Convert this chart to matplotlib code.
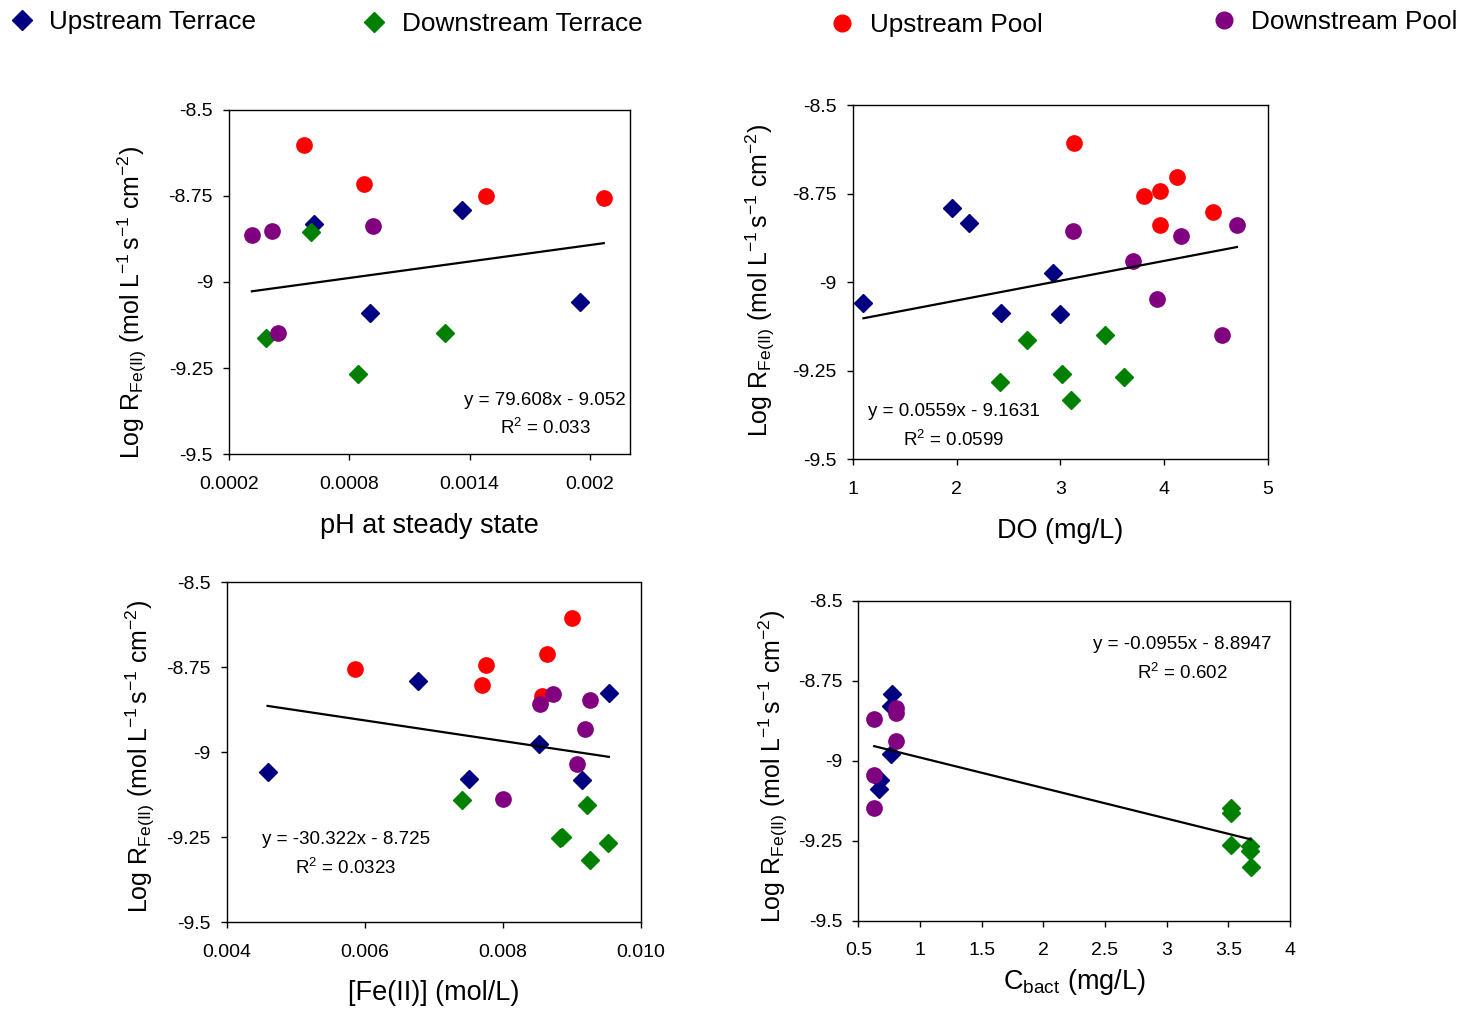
import numpy as np
import matplotlib
matplotlib.use('Agg')
import matplotlib.pyplot as plt
from matplotlib.lines import Line2D

plt.rcParams['font.family'] = ['Liberation Sans', 'DejaVu Sans']
plt.rcParams['mathtext.fontset'] = 'custom'
plt.rcParams['mathtext.rm'] = 'Liberation Sans'
plt.rcParams['mathtext.it'] = 'Liberation Sans:italic'
plt.rcParams['mathtext.default'] = 'regular'

# ---- data: log R_Fe(II) vs. four parameters, per sampling site ----
groups = ['Upstream Terrace', 'Downstream Terrace', 'Upstream Pool', 'Downstream Pool']

# pH at steady state (x axis as plotted)
ph_x_ut = [0.000624, 0.001361, 0.000901, 0.00195]
ph_y_ut = [-8.833, -8.791, -9.089, -9.058]
ph_x_dt = [0.000611, 0.000382, 0.000841, 0.001275]
ph_y_dt = [-8.854, -9.162, -9.266, -9.149]
ph_x_up = [0.000572, 0.000873, 0.001482, 0.002069]
ph_y_up = [-8.603, -8.716, -8.751, -8.757]
ph_x_dp = [0.000314, 0.000415, 0.000916, 0.000444]
ph_y_dp = [-8.865, -8.852, -8.838, -9.147]

# dissolved oxygen
do_x_ut = [1.103, 1.959, 2.117, 2.934, 2.431, 2.997]
do_y_ut = [-9.059, -8.790, -8.832, -8.974, -9.087, -9.090]
do_x_dt = [2.683, 3.428, 2.421, 3.017, 3.610, 3.107]
do_y_dt = [-9.163, -9.149, -9.282, -9.260, -9.266, -9.331]
do_x_up = [3.131, 3.810, 3.966, 4.121, 4.476, 3.966]
do_y_up = [-8.605, -8.757, -8.742, -8.703, -8.802, -8.837]
do_x_dp = [3.124, 4.162, 4.703, 3.703, 3.931, 4.562]
do_y_dp = [-8.855, -8.869, -8.837, -8.941, -9.047, -9.149]

# dissolved Fe(II)
fe_x_ut = [0.004592, 0.006768, 0.007515, 0.008528, 0.009147, 0.009536]
fe_y_ut = [-9.058, -8.790, -9.078, -8.976, -9.081, -8.825]
fe_x_dt = [0.007413, 0.008827, 0.008864, 0.009221, 0.009520, 0.009259]
fe_y_dt = [-9.140, -9.252, -9.250, -9.156, -9.269, -9.319]
fe_x_up = [0.005856, 0.007755, 0.007701, 0.008635, 0.009003, 0.008571]
fe_y_up = [-8.756, -8.744, -8.802, -8.713, -8.606, -8.835]
fe_x_dp = [0.008725, 0.008544, 0.009264, 0.009195, 0.009067, 0.008005]
fe_y_dp = [-8.829, -8.859, -8.846, -8.932, -9.036, -9.137]

# bacterial biomass (no upstream pool samples)
cb_x_ut = [0.769, 0.763, 0.763, 0.677, 0.665]
cb_y_ut = [-8.791, -8.829, -8.978, -9.060, -9.089]
cb_x_dt = [3.521, 3.521, 3.518, 3.677, 3.677, 3.680]
cb_y_dt = [-9.149, -9.165, -9.263, -9.268, -9.282, -9.332]
cb_x_up = []
cb_y_up = []
cb_x_dp = [0.629, 0.808, 0.808, 0.808, 0.629, 0.629]
cb_y_dp = [-8.869, -8.835, -8.852, -8.940, -9.046, -9.148]

# linear fits (Excel trendlines)
fit_slope = [79.608, 0.0559, -30.322, -0.0955]
fit_icpt = [-9.052, -9.1631, -8.725, -8.8947]
fit_r2 = [0.033, 0.0599, 0.0323, 0.602]

# axes
x_labels = ['pH at steady state', 'DO (mg/L)', '[Fe(II)] (mol/L)',
            r'C$_{\rm bact}$ (mg/L)']
x_ticks = [[0.0002, 0.0008, 0.0014, 0.002], [1, 2, 3, 4, 5],
           [0.004, 0.006, 0.008, 0.010], [0.5, 1, 1.5, 2, 2.5, 3, 3.5, 4]]
x_ticklabels = [['0.0002', '0.0008', '0.0014', '0.002'], ['1', '2', '3', '4', '5'],
                ['0.004', '0.006', '0.008', '0.010'],
                ['0.5', '1', '1.5', '2', '2.5', '3', '3.5', '4']]
x_lims = [(0.0002, 0.0022), (1, 5), (0.004, 0.010), (0.5, 4)]
y_ticks = [-8.5, -8.75, -9, -9.25, -9.5]
y_ticklabels = ['-8.5', '-8.75', '-9', '-9.25', '-9.5']

xs = [[ph_x_ut, ph_x_dt, ph_x_up, ph_x_dp], [do_x_ut, do_x_dt, do_x_up, do_x_dp],
      [fe_x_ut, fe_x_dt, fe_x_up, fe_x_dp], [cb_x_ut, cb_x_dt, cb_x_up, cb_x_dp]]
ys = [[ph_y_ut, ph_y_dt, ph_y_up, ph_y_dp], [do_y_ut, do_y_dt, do_y_up, do_y_dp],
      [fe_y_ut, fe_y_dt, fe_y_up, fe_y_dp], [cb_y_ut, cb_y_dt, cb_y_up, cb_y_dp]]

colors = ['#000080', '#008000', '#FF0000', '#800080']
markers = ['D', 'D', 'o', 'o']
msizes = [9.5, 9.5, 11, 11]

# layout (figure fractions) and text placement (axes fractions)
rects = [[0.1560, 0.5502, 0.2732, 0.3412], [0.5809, 0.5452, 0.2827, 0.3505],
         [0.1544, 0.0871, 0.2822, 0.3366], [0.5847, 0.0886, 0.2941, 0.3166]]
eq_pos = [(0.788, 0.156, 0.077), (0.243, 0.136, 0.055),
          (0.288, 0.244, 0.159), (0.750, 0.862, 0.774)]
xlab_y = [-0.170, -0.165, -0.170, -0.145]
ylab_pos = [(-0.240, 0.442), (-0.222, 0.506), (-0.207, 0.488), (-0.197, 0.483)]

ylab = r'$\mathrm{Log\ R_{Fe(II)}\ (mol\ L^{-1}\,s^{-1}\ cm^{-2})}$'

fig = plt.figure(figsize=(14.68, 10.10), dpi=100)

for i in range(4):
    ax = fig.add_axes(rects[i])
    for g in range(4):
        ax.plot(xs[i][g], ys[i][g], ls='none', marker=markers[g], ms=msizes[g],
                color=colors[g], mec=colors[g], zorder=3 + g)
    # trendline over the range of the data
    allx = np.concatenate([np.asarray(v, float) for v in xs[i]])
    xl = np.array([allx.min(), allx.max()])
    ax.plot(xl, fit_slope[i] * xl + fit_icpt[i], color='black', lw=1.6, zorder=10)

    ax.set_xlim(*x_lims[i])
    ax.set_ylim(-9.5, -8.5)
    ax.set_xticks(x_ticks[i])
    ax.set_xticklabels(x_ticklabels[i])
    ax.set_yticks(y_ticks)
    ax.set_yticklabels(y_ticklabels)
    ax.tick_params(direction='out', length=4.5, width=1, labelsize=14,
                   top=False, right=False)
    ax.tick_params(axis='x', pad=11)
    ax.tick_params(axis='y', pad=7)
    for s in ax.spines.values():
        s.set_linewidth(1.0)

    ax.set_xlabel(x_labels[i], fontsize=19.5, va='top')
    ax.xaxis.set_label_coords(0.5, xlab_y[i])
    ax.set_ylabel(ylab, fontsize=18)
    ax.yaxis.set_label_coords(*ylab_pos[i])
    ax.yaxis.label.set_verticalalignment('center')

    sign = '-' if fit_icpt[i] < 0 else '+'
    ex, ey, ry = eq_pos[i]
    ax.text(ex, ey, f'y = {fit_slope[i]:g}x {sign} {abs(fit_icpt[i]):g}',
            transform=ax.transAxes, ha='center', va='center', fontsize=13.5)
    ax.text(ex, ry, f'R$^{{2}}$ = {fit_r2[i]:g}',
            transform=ax.transAxes, ha='center', va='center', fontsize=13.5)

# legend row across the top
leg_anchor = [(0.0060, 0.978), (0.2462, 0.976), (0.5649, 0.975), (0.8247, 0.978)]
for g in range(4):
    h = Line2D([], [], ls='none', marker=markers[g], color=colors[g],
               ms=10 if markers[g] == 'D' else 12)
    fig.legend([h], [groups[g]], loc='center left', bbox_to_anchor=leg_anchor[g],
               frameon=False, fontsize=18.8, handlelength=1.0, handletextpad=0.55,
               borderpad=0, borderaxespad=0)

fig.savefig('out.png', dpi=100)
